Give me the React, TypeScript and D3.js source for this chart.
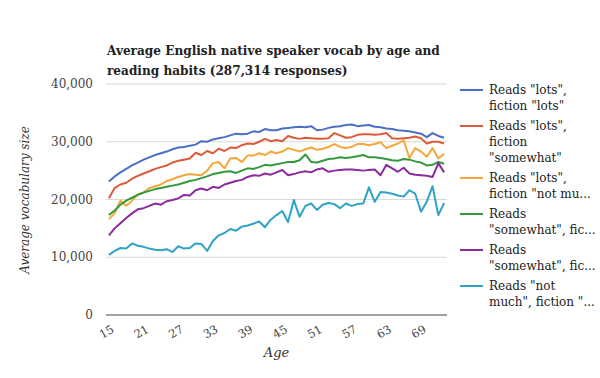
import React from "react";
import * as d3 from "d3";

const ages: number[] = d3.range(15, 74);

const seriesNames: string[][] = [
  ['Reads "lots",', 'fiction "lots"'],
  ['Reads "lots",', "fiction", '"somewhat"'],
  ['Reads "lots",', 'fiction "not mu...'],
  ["Reads", '"somewhat", fic...'],
  ["Reads", '"somewhat", fic...'],
  ['Reads "not', 'much", fiction "...'],
];

const colors: string[] = ["#4c6fc4", "#dc5a3a", "#f5a83a", "#34993c", "#8c2b9e", "#2ea3c6"];

// values in thousands of words, ages 15..73
const lotsLots: number[] = [
  23.1, 24.0, 24.7, 25.3, 25.9, 26.4, 26.9, 27.3, 27.7, 28.0,
  28.3, 28.7, 29.0, 29.1, 29.3, 29.5, 30.1, 30.0, 30.4, 30.6,
  30.8, 31.1, 31.4, 31.3, 31.4, 31.8, 31.7, 32.2, 32.0, 32.0,
  32.3, 32.4, 32.5, 32.6, 32.5, 32.7, 32.0, 32.1, 32.4, 32.6,
  32.7, 32.9, 33.0, 32.7, 32.8, 32.9, 32.6, 32.5, 32.3, 32.2,
  32.0, 31.9, 31.8, 31.6, 31.4, 30.8, 31.5, 31.0, 30.7,
];
const lotsSomewhat: number[] = [
  20.2, 22.0, 22.6, 22.9, 23.6, 24.1, 24.5, 24.9, 25.3, 25.6,
  25.9, 26.4, 26.7, 26.9, 27.1, 28.1, 27.7, 28.4, 28.0, 28.8,
  28.4, 29.0, 28.9, 29.4, 29.7, 29.6, 30.0, 30.5, 30.1, 30.3,
  30.1, 31.0, 30.7, 30.5, 30.7, 30.6, 30.5, 30.5, 30.6, 31.5,
  31.1, 30.7, 30.8, 31.2, 31.3, 31.3, 31.2, 31.3, 31.5, 30.6,
  30.5, 30.6, 30.7, 30.9, 30.6, 29.7, 30.0, 30.0, 29.7,
];
const lotsNotMuch: number[] = [
  16.6, 17.6, 19.8, 18.9, 19.8, 20.9, 21.2, 22.0, 22.3, 22.6,
  23.2, 23.5, 23.9, 24.2, 24.4, 24.3, 24.2, 25.0, 26.3, 26.5,
  25.4, 27.1, 27.2, 26.5, 27.6, 27.6, 28.0, 27.7, 28.3, 28.0,
  28.3, 28.9, 28.6, 28.3, 28.7, 29.0, 28.6, 28.8, 29.1, 29.6,
  29.1, 28.9, 29.1, 29.6, 29.6, 29.4, 29.6, 29.9, 28.9, 29.3,
  29.7, 30.3, 27.2, 28.9, 28.3, 27.4, 28.9, 27.1, 27.9,
];
const somewhatA: number[] = [
  17.3, 18.1, 19.1, 19.8, 20.3, 20.8, 21.2, 21.5, 21.8, 22.0,
  22.2, 22.4, 22.6, 22.9, 23.2, 23.4, 23.7, 24.0, 24.4, 24.6,
  24.8, 24.9, 24.6, 25.0, 25.4, 25.3, 25.6, 26.0, 25.9, 26.1,
  26.3, 26.5, 26.5, 26.8, 27.8, 26.5, 26.4, 26.7, 27.0, 27.1,
  27.3, 27.2, 27.3, 27.5, 27.7, 27.3, 27.3, 27.2, 27.0, 26.8,
  26.7, 27.0, 26.9, 26.6, 26.4, 25.9, 26.0, 26.5, 26.2,
];
const somewhatB: number[] = [
  13.8, 15.0, 15.9, 16.8, 17.6, 18.3, 18.5, 18.9, 19.3, 19.1,
  19.7, 19.9, 20.2, 20.8, 20.7, 21.6, 21.9, 21.6, 22.2, 22.0,
  22.6, 22.9, 23.2, 23.4, 23.9, 24.2, 24.1, 24.5, 24.3, 24.7,
  25.1, 24.2, 24.4, 24.7, 24.9, 24.7, 25.2, 25.4, 24.8, 25.0,
  25.1, 25.2, 25.2, 25.1, 25.0, 25.1, 25.2, 24.2, 26.0, 25.4,
  24.8, 25.5, 24.5, 24.3, 24.2, 24.1, 23.9, 26.3, 24.7,
];
const notMuch: number[] = [
  10.4, 11.1, 11.6, 11.5, 12.4, 12.0, 11.8, 11.5, 11.3, 11.2,
  11.4, 10.9, 11.9, 11.5, 11.6, 12.4, 12.3, 11.1, 12.8, 13.8,
  14.2, 14.9, 14.6, 15.3, 15.5, 15.8, 16.2, 15.2, 16.5, 17.3,
  18.0, 16.1, 19.9, 17.0, 18.9, 19.3, 18.2, 19.1, 19.4, 19.2,
  18.5, 19.3, 18.9, 19.2, 19.3, 22.1, 19.6, 21.3, 21.2, 21.0,
  20.7, 20.5, 21.6, 21.0, 17.9, 19.6, 22.3, 17.3, 19.4,
];

const allSeries: number[][] = [lotsLots, lotsSomewhat, lotsNotMuch, somewhatA, somewhatB, notMuch];

const yTicks: number[] = [0, 10000, 20000, 30000, 40000];
const xTickAges: number[] = [15, 21, 27, 33, 39, 45, 51, 57, 63, 69];

const titleLines: string[] = [
  "Average English native speaker vocab by age and",
  "reading habits (287,314 responses)",
];

const FONT = "'DejaVu Serif', Georgia, serif";

export default function App() {
  const W = 600, H = 378;
  const x = d3.scalePoint<number>().domain(ages).range([106, 447]).padding(0.5);
  const y = d3.scaleLinear().domain([0, 40000]).range([315, 84]);
  const line = d3
    .line<number>()
    .x((_, i) => x(ages[i]) as number)
    .y((v) => y(v * 1000));
  const fmt = d3.format(",");

  let cy = 90;
  const legendItems = seriesNames.map((lines, i) => {
    const item = { lines, y: cy, color: colors[i] };
    cy += lines.length * 16 + 4;
    return item;
  });

  return (
    <svg
      width={W}
      height={H}
      style={{ position: "absolute", left: 0, top: 0, background: "#fff" }}
      fontFamily={FONT}
    >
      <rect width={W} height={H} fill="#fff" />
      {titleLines.map((t, i) => (
        <text key={i} x={107} y={55 + i * 20} fontSize={12.1} fontWeight="bold" fill="#222">
          {t}
        </text>
      ))}
      {yTicks.map((t) => (
        <g key={t}>
          <line
            x1={106}
            x2={447}
            y1={y(t)}
            y2={y(t)}
            stroke={t === 0 ? "#444" : "#d9d9d9"}
            strokeWidth={1}
          />
          <text x={93} y={y(t)} dy="0.35em" textAnchor="end" fontSize={12} fill="#444">
            {fmt(t)}
          </text>
        </g>
      ))}
      {xTickAges.map((a) => (
        <text
          key={a}
          transform={`translate(${(x(a) as number) + 4},${328}) rotate(-30)`}
          textAnchor="end"
          dy="0.35em"
          fontSize={11.5}
          fill="#444"
        >
          {a}
        </text>
      ))}
      <text x={276.5} y={357} textAnchor="middle" fontSize={13} fontStyle="italic" fill="#333">
        Age
      </text>
      <text
        transform="translate(29,200) rotate(-90)"
        textAnchor="middle"
        fontSize={12}
        fontStyle="italic"
        fill="#333"
      >
        Average vocabulary size
      </text>
      {allSeries.map((s, i) => (
        <path key={i} d={line(s) || ""} fill="none" stroke={colors[i]} strokeWidth={2} strokeLinejoin="round" />
      ))}
      {legendItems.map((it, i) => (
        <g key={i}>
          <line x1={460} x2={483} y1={it.y} y2={it.y} stroke={it.color} strokeWidth={2} />
          {it.lines.map((l, j) => (
            <text key={j} x={489} y={it.y + j * 16} dy="0.35em" fontSize={12} fill="#222">
              {l}
            </text>
          ))}
        </g>
      ))}
    </svg>
  );
}
